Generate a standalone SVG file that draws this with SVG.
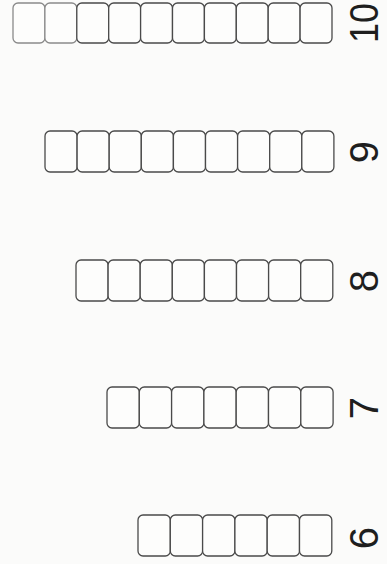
<svg xmlns="http://www.w3.org/2000/svg" width="387" height="564" viewBox="0 0 387 564">
<style>
.bg{fill:#fbfbfa}
.c{fill:#fdfdfc;stroke:#4a4a4a;stroke-width:1.3}
.lt{stroke:#8a8a8a}
.n{font-family:"Liberation Sans",Arial,sans-serif;font-size:40px;fill:#1e1e1e;text-anchor:middle}
</style>
<rect class="bg" x="0" y="0" width="387" height="564"/>
<g id="row10">
<rect class="c lt" x="13" y="3" width="31.9" height="40" rx="5"/>
<rect class="c lt" x="44.9" y="3" width="31.9" height="40" rx="5"/>
<rect class="c" x="76.8" y="3" width="31.9" height="40" rx="5"/>
<rect class="c" x="108.7" y="3" width="31.9" height="40" rx="5"/>
<rect class="c" x="140.6" y="3" width="31.9" height="40" rx="5"/>
<rect class="c" x="172.5" y="3" width="31.9" height="40" rx="5"/>
<rect class="c" x="204.4" y="3" width="31.9" height="40" rx="5"/>
<rect class="c" x="236.3" y="3" width="31.9" height="40" rx="5"/>
<rect class="c" x="268.2" y="3" width="31.9" height="40" rx="5"/>
<rect class="c" x="300.1" y="3" width="31.9" height="40" rx="5"/>
</g>
<g id="label10"><text class="n" transform="translate(378,23) rotate(-90)" textLength="40" lengthAdjust="spacingAndGlyphs">10</text></g>
<g id="row9">
<rect class="c" x="45" y="131" width="32.1" height="41" rx="5"/>
<rect class="c" x="77.1" y="131" width="32.1" height="41" rx="5"/>
<rect class="c" x="109.2" y="131" width="32.1" height="41" rx="5"/>
<rect class="c" x="141.3" y="131" width="32.1" height="41" rx="5"/>
<rect class="c" x="173.4" y="131" width="32.1" height="41" rx="5"/>
<rect class="c" x="205.5" y="131" width="32.1" height="41" rx="5"/>
<rect class="c" x="237.6" y="131" width="32.1" height="41" rx="5"/>
<rect class="c" x="269.7" y="131" width="32.1" height="41" rx="5"/>
<rect class="c" x="301.8" y="131" width="32.1" height="41" rx="5"/>
</g>
<g id="label9"><text class="n" transform="translate(378,152) rotate(-90)">9</text></g>
<g id="row8">
<rect class="c" x="76" y="260" width="32.1" height="41" rx="5"/>
<rect class="c" x="108.1" y="260" width="32.1" height="41" rx="5"/>
<rect class="c" x="140.2" y="260" width="32.1" height="41" rx="5"/>
<rect class="c" x="172.3" y="260" width="32.1" height="41" rx="5"/>
<rect class="c" x="204.4" y="260" width="32.1" height="41" rx="5"/>
<rect class="c" x="236.5" y="260" width="32.1" height="41" rx="5"/>
<rect class="c" x="268.6" y="260" width="32.1" height="41" rx="5"/>
<rect class="c" x="300.7" y="260" width="32.1" height="41" rx="5"/>
</g>
<g id="label8"><text class="n" transform="translate(378,281) rotate(-90)">8</text></g>
<g id="row7">
<rect class="c" x="107" y="387" width="32.3" height="41" rx="5"/>
<rect class="c" x="139.3" y="387" width="32.3" height="41" rx="5"/>
<rect class="c" x="171.6" y="387" width="32.3" height="41" rx="5"/>
<rect class="c" x="203.9" y="387" width="32.3" height="41" rx="5"/>
<rect class="c" x="236.2" y="387" width="32.3" height="41" rx="5"/>
<rect class="c" x="268.5" y="387" width="32.3" height="41" rx="5"/>
<rect class="c" x="300.8" y="387" width="32.3" height="41" rx="5"/>
</g>
<g id="label7"><text class="n" transform="translate(378,408) rotate(-90)">7</text></g>
<g id="row6">
<rect class="c" x="138" y="515" width="32.3" height="41" rx="5"/>
<rect class="c" x="170.3" y="515" width="32.3" height="41" rx="5"/>
<rect class="c" x="202.6" y="515" width="32.3" height="41" rx="5"/>
<rect class="c" x="234.9" y="515" width="32.3" height="41" rx="5"/>
<rect class="c" x="267.2" y="515" width="32.3" height="41" rx="5"/>
<rect class="c" x="299.5" y="515" width="32.3" height="41" rx="5"/>
</g>
<g id="label6"><text class="n" transform="translate(378,538) rotate(-90)">6</text></g>
</svg>
